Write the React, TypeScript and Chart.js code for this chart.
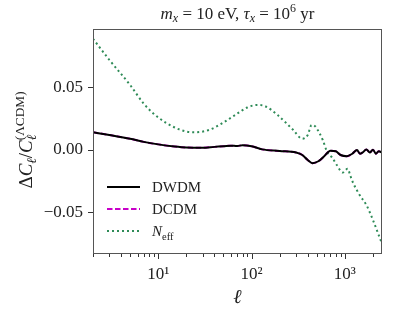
import React, { useEffect, useRef } from 'react';
import { Chart, registerables } from 'chart.js';
Chart.register(...registerables);

const FONT = '"Liberation Serif", "DejaVu Serif", serif';

const ell = [2, 3, 5, 7, 10, 15, 20, 30, 40, 50, 60, 70, 80, 100, 130, 200, 300, 350, 400, 450, 520, 600, 700, 800, 900, 1050, 1200, 1350, 1450, 1550, 1700, 1850, 2000, 2150, 2300, 2500];
const dwdm = [0.0142, 0.012, 0.009, 0.0065, 0.0045, 0.0028, 0.002, 0.0018, 0.0025, 0.003, 0.0035, 0.0032, 0.0038, 0.003, 0.0005, -0.0008, -0.002, -0.004, -0.008, -0.0105, -0.009, -0.005, -0.0005, -0.001, -0.004, -0.005, -0.003, 0.0, -0.003, -0.002, 0.0005, -0.002, 0.0003, -0.003, -0.001, -0.002];
const dcdm = [0.0142, 0.012, 0.009, 0.0065, 0.0045, 0.0028, 0.002, 0.0018, 0.0025, 0.003, 0.0035, 0.0032, 0.0038, 0.003, 0.0005, -0.0008, -0.002, -0.004, -0.008, -0.0105, -0.009, -0.005, -0.0005, -0.001, -0.004, -0.005, -0.003, 0.0, -0.003, -0.002, 0.0005, -0.002, 0.0003, -0.003, -0.001, -0.002];

const neffEll = [2, 3, 5, 7, 10, 15, 20, 25, 35, 50, 70, 90, 115, 140, 190, 280, 350, 400, 440, 480, 530, 580, 650, 730, 820, 950, 1070, 1150, 1220, 1440, 1700, 2000, 2250, 2500];
const neff = [0.089, 0.072, 0.052, 0.037, 0.026, 0.018, 0.0148, 0.0142, 0.016, 0.022, 0.029, 0.034, 0.036, 0.035, 0.028, 0.016, 0.009, 0.012, 0.02, 0.019, 0.014, 0.008, -0.002, -0.006, -0.012, -0.018, -0.015, -0.021, -0.026, -0.036, -0.044, -0.056, -0.066, -0.075];

const yTicks = [-0.05, 0, 0.05];
const xMajor = [10, 100, 1000];
const xTickLabels: Record<number, string> = { 10: '10\u00b9', 100: '10\u00b2', 1000: '10\u00b3' };

const X_MIN = 2;
const X_MAX = 2500;
const Y_MIN = -0.0832;
const Y_MAX = 0.0968;

type Seg = { t: string; it?: boolean; dy?: number; sc?: number; noAdv?: boolean };

function font(size: number, it?: boolean) {
  return `${it ? 'italic ' : ''}${size}px ${FONT}`;
}

function drawRich(ctx: CanvasRenderingContext2D, segs: Seg[], cx: number, cy: number, size: number) {
  let total = 0;
  let pending = 0;
  const widths: number[] = [];
  for (const s of segs) {
    ctx.font = font(size * (s.sc || 1), s.it);
    widths.push(ctx.measureText(s.t).width);
  }
  for (let i = 0; i < segs.length; i++) {
    if (segs[i].noAdv) {
      pending = Math.max(pending, widths[i]);
    } else {
      total += Math.max(pending, widths[i]);
      pending = 0;
    }
  }
  total += pending;
  let x = cx - total / 2;
  pending = 0;
  ctx.textBaseline = 'alphabetic';
  ctx.textAlign = 'left';
  const base = cy + size * 0.35;
  for (let i = 0; i < segs.length; i++) {
    const s = segs[i];
    ctx.font = font(size * (s.sc || 1), s.it);
    ctx.fillText(s.t, x, base + (s.dy || 0) * size);
    if (s.noAdv) {
      pending = Math.max(pending, widths[i]);
    } else {
      x += Math.max(pending, widths[i]);
      pending = 0;
    }
  }
}

const decorPlugin = {
  id: 'decor',
  afterDraw(chart: any) {
    const ctx: CanvasRenderingContext2D = chart.ctx;
    const { left, right, top, bottom } = chart.chartArea;
    const xs = chart.scales.x;
    ctx.save();
    ctx.strokeStyle = '#555';
    ctx.lineWidth = 1;
    ctx.strokeRect(left + 0.5, top + 0.5, right - left - 1, bottom - top - 1);
    ctx.strokeStyle = '#333';
    for (const d of [1, 10, 100, 1000]) {
      for (let k = 1; k <= 9; k++) {
        const v = k * d;
        if (v < X_MIN || v > X_MAX) continue;
        const px = Math.round(xs.getPixelForValue(v)) + 0.5;
        const len = k === 1 ? 5 : 3;
        ctx.beginPath();
        ctx.moveTo(px, bottom);
        ctx.lineTo(px, bottom + len);
        ctx.stroke();
      }
    }
    ctx.fillStyle = '#222';
    drawRich(ctx, [
      { t: 'm', it: true },
      { t: 'x', it: true, sc: 0.7, dy: 0.2 },
      { t: ' = 10 eV, ' },
      { t: '\u03c4', it: true },
      { t: 'x', it: true, sc: 0.7, dy: 0.2 },
      { t: ' = 10' },
      { t: '6', sc: 0.7, dy: -0.38 },
      { t: ' yr' },
    ], (left + right) / 2, 13, 17);
    drawRich(ctx, [{ t: '\u2113', it: true }], (left + right) / 2, 296, 20);
    ctx.save();
    ctx.translate(25, 140);
    ctx.rotate(-Math.PI / 2);
    drawRich(ctx, [
      { t: '\u0394' },
      { t: 'C', it: true },
      { t: '\u2113', it: true, sc: 0.7, dy: 0.22 },
      { t: '/' },
      { t: 'C', it: true },
      { t: '\u2113', it: true, sc: 0.7, dy: 0.22, noAdv: true },
      { t: '(\u039bCDM)', sc: 0.7, dy: -0.42 },
    ], 0, 0, 19);
    ctx.restore();
    const items = [
      { color: '#000000', dash: [] as number[], w: 2, segs: [{ t: 'DWDM' }] as Seg[] },
      { color: '#c800c8', dash: [5.5, 2.5], w: 2, segs: [{ t: 'DCDM' }] as Seg[] },
      { color: '#2e8b57', dash: [2, 3], w: 2, segs: [{ t: 'N', it: true }, { t: 'eff', sc: 0.7, dy: 0.22 }] as Seg[] },
    ];
    const ys = [187, 209, 231];
    items.forEach((it, i) => {
      ctx.beginPath();
      ctx.strokeStyle = it.color;
      ctx.lineWidth = it.w;
      ctx.setLineDash(it.dash);
      ctx.moveTo(107, ys[i]);
      ctx.lineTo(140, ys[i]);
      ctx.stroke();
      ctx.setLineDash([]);
      ctx.fillStyle = '#222';
      let w = 0;
      for (const s of it.segs) {
        ctx.font = font(15 * (s.sc || 1), s.it);
        w += ctx.measureText(s.t).width;
      }
      drawRich(ctx, it.segs, 152 + w / 2, ys[i], 15);
    });
    ctx.restore();
  },
};

export default function App() {
  const ref = useRef<HTMLCanvasElement>(null);
  useEffect(() => {
    document.body.style.margin = '0';
    const c = ref.current!;
    const chart = new Chart(c, {
      type: 'line',
      data: {
        datasets: [
          {
            label: 'DWDM',
            data: ell.map((l, i) => ({ x: l, y: dwdm[i] })),
            borderColor: '#000000',
            borderWidth: 2,
            pointRadius: 0,
            cubicInterpolationMode: 'monotone',
          },
          {
            label: 'DCDM',
            data: ell.map((l, i) => ({ x: l, y: dcdm[i] })),
            borderColor: '#c800c8',
            borderWidth: 2,
            borderDash: [5.5, 2.5],
            pointRadius: 0,
            cubicInterpolationMode: 'monotone',
          },
          {
            label: 'Neff',
            data: neffEll.map((l, i) => ({ x: l, y: neff[i] })),
            borderColor: '#2e8b57',
            borderWidth: 2,
            borderDash: [2, 3],
            pointRadius: 0,
            cubicInterpolationMode: 'monotone',
          },
        ],
      },
      options: {
        animation: false,
        responsive: false,
        layout: { padding: { left: 0, right: 14, top: 29, bottom: 0 } },
        plugins: { legend: { display: false }, tooltip: { enabled: false }, title: { display: false } },
        scales: {
          x: {
            type: 'logarithmic',
            min: X_MIN,
            max: X_MAX,
            grid: { display: true, drawOnChartArea: false, drawTicks: false },
            border: { display: false },
            afterBuildTicks: (s: any) => {
              s.ticks = xMajor.map((v) => ({ value: v }));
            },
            afterFit: (s: any) => {
              s.height = 60;
            },
            ticks: {
              autoSkip: false,
              maxRotation: 0,
              padding: 10,
              color: '#222',
              font: { family: FONT, size: 17 },
              callback: (v: any) => xTickLabels[Number(v)] ?? '',
            },
          },
          y: {
            type: 'linear',
            min: Y_MIN,
            max: Y_MAX,
            grid: { display: true, drawOnChartArea: false, drawTicks: true, tickLength: 5, color: '#333' },
            border: { display: false },
            afterBuildTicks: (s: any) => {
              s.ticks = yTicks.map((v) => ({ value: v }));
            },
            afterFit: (s: any) => {
              s.width = 93;
            },
            ticks: {
              padding: 5,
              color: '#222',
              font: { family: FONT, size: 17 },
              callback: (v: any) => {
                const n = Number(v);
                const s = Math.abs(n).toFixed(2);
                return n < -1e-9 ? '\u2212' + s : s;
              },
            },
          },
        },
      },
      plugins: [decorPlugin],
    });
    return () => chart.destroy();
  }, []);
  return (
    <div style={{ position: 'absolute', left: 0, top: 0, width: 396, height: 314, background: '#fff' }}>
      <canvas ref={ref} width={396} height={314} style={{ width: 396, height: 314 }} />
    </div>
  );
}
